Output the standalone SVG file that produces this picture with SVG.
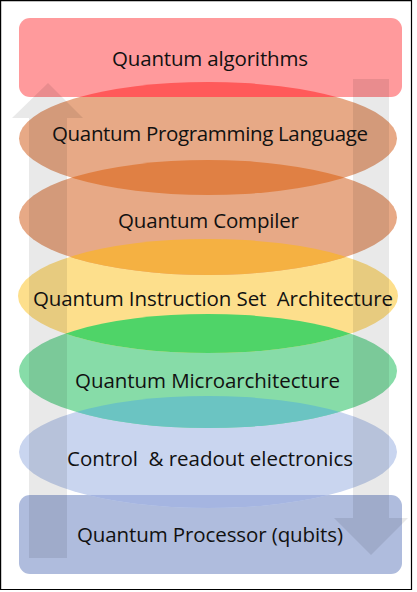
<svg xmlns="http://www.w3.org/2000/svg" width="417" height="592" viewBox="0 0 417 592">
<style>
.lbl{font-family:"Open Sans",Lato,"Liberation Sans",sans-serif;font-size:20.5px;fill:#111111;text-anchor:middle;white-space:pre}
.arrow{fill:#000;fill-opacity:0.088}
</style>
<defs>
<clipPath id="cRectTop"><rect x="19" y="18" width="383" height="79" rx="11"/></clipPath>
<clipPath id="cE1"><ellipse cx="208" cy="138.5" rx="189" ry="56.5"/></clipPath>
<clipPath id="cE2"><ellipse cx="208" cy="217.5" rx="189" ry="57.5"/></clipPath>
<clipPath id="cE3"><ellipse cx="208" cy="296" rx="190" ry="57"/></clipPath>
<clipPath id="cE4"><ellipse cx="208" cy="371" rx="189" ry="57"/></clipPath>
<clipPath id="cE5"><ellipse cx="208" cy="452" rx="189" ry="56"/></clipPath>
</defs>
<rect x="0" y="0" width="417" height="592" fill="#ffffff"/>

<g id="node-processor">
<rect x="19" y="495" width="383" height="79" rx="11" fill="#afbcdd"/>
</g>
<g id="node-control">
<ellipse cx="208" cy="452" rx="189" ry="56" fill="#c9d5ef"/>
<rect x="19" y="495" width="383" height="79" rx="11" fill="#a5b5e1" clip-path="url(#cE5)"/>
</g>
<g id="node-micro">
<ellipse cx="208" cy="371" rx="189" ry="57" fill="#87dca8"/>
<ellipse cx="208" cy="452" rx="189" ry="56" fill="#6bc4c2" clip-path="url(#cE4)"/>
</g>
<g id="node-isa">
<ellipse cx="208" cy="296" rx="190" ry="57" fill="#fddf8c"/>
<ellipse cx="208" cy="371" rx="189" ry="57" fill="#4fd468" clip-path="url(#cE3)"/>
</g>
<g id="node-compiler">
<ellipse cx="208" cy="217.5" rx="189" ry="57.5" fill="#e7a986"/>
<ellipse cx="208" cy="296" rx="190" ry="57" fill="#f5b142" clip-path="url(#cE2)"/>
</g>
<g id="node-language">
<ellipse cx="208" cy="138.5" rx="189" ry="56.5" fill="#e7a986"/>
<ellipse cx="208" cy="217.5" rx="189" ry="57.5" fill="#e08044" clip-path="url(#cE1)"/>
</g>
<g id="node-algorithms">
<rect x="19" y="18" width="383" height="79" rx="11" fill="#ff9a9c"/>
<ellipse cx="208" cy="138.5" rx="189" ry="56.5" fill="#ff5a5a" clip-path="url(#cRectTop)"/>
</g>

<g id="connectors">
<path class="arrow" d="M48,83 L83,118 L67,118 L67,558 L29,558 L29,118 L12,118 Z"/>
<path class="arrow" d="M353,79 L389,79 L389,518 L408,518 L371,555 L334,518 L353,518 Z"/>
</g>

<g id="labels">
<text class="lbl" x="210" y="66" textLength="196">Quantum algorithms</text>
<text class="lbl" x="210" y="141" textLength="316">Quantum Programming Language</text>
<text class="lbl" x="208.5" y="228" textLength="181">Quantum Compiler</text>
<text class="lbl" x="213" y="306" textLength="360">Quantum Instruction Set  Architecture</text>
<text class="lbl" x="207.5" y="388" textLength="265">Quantum Microarchitecture</text>
<text class="lbl" x="210" y="466" textLength="286">Control  &amp; readout electronics</text>
<text class="lbl" x="210" y="542" textLength="266">Quantum Processor (qubits)</text>
</g>

<g id="frame" fill="none" stroke="#000" stroke-width="1.2">
<path d="M0.6,0.6 H411.5 V589.5 H0.6 Z"/>
</g>
</svg>
